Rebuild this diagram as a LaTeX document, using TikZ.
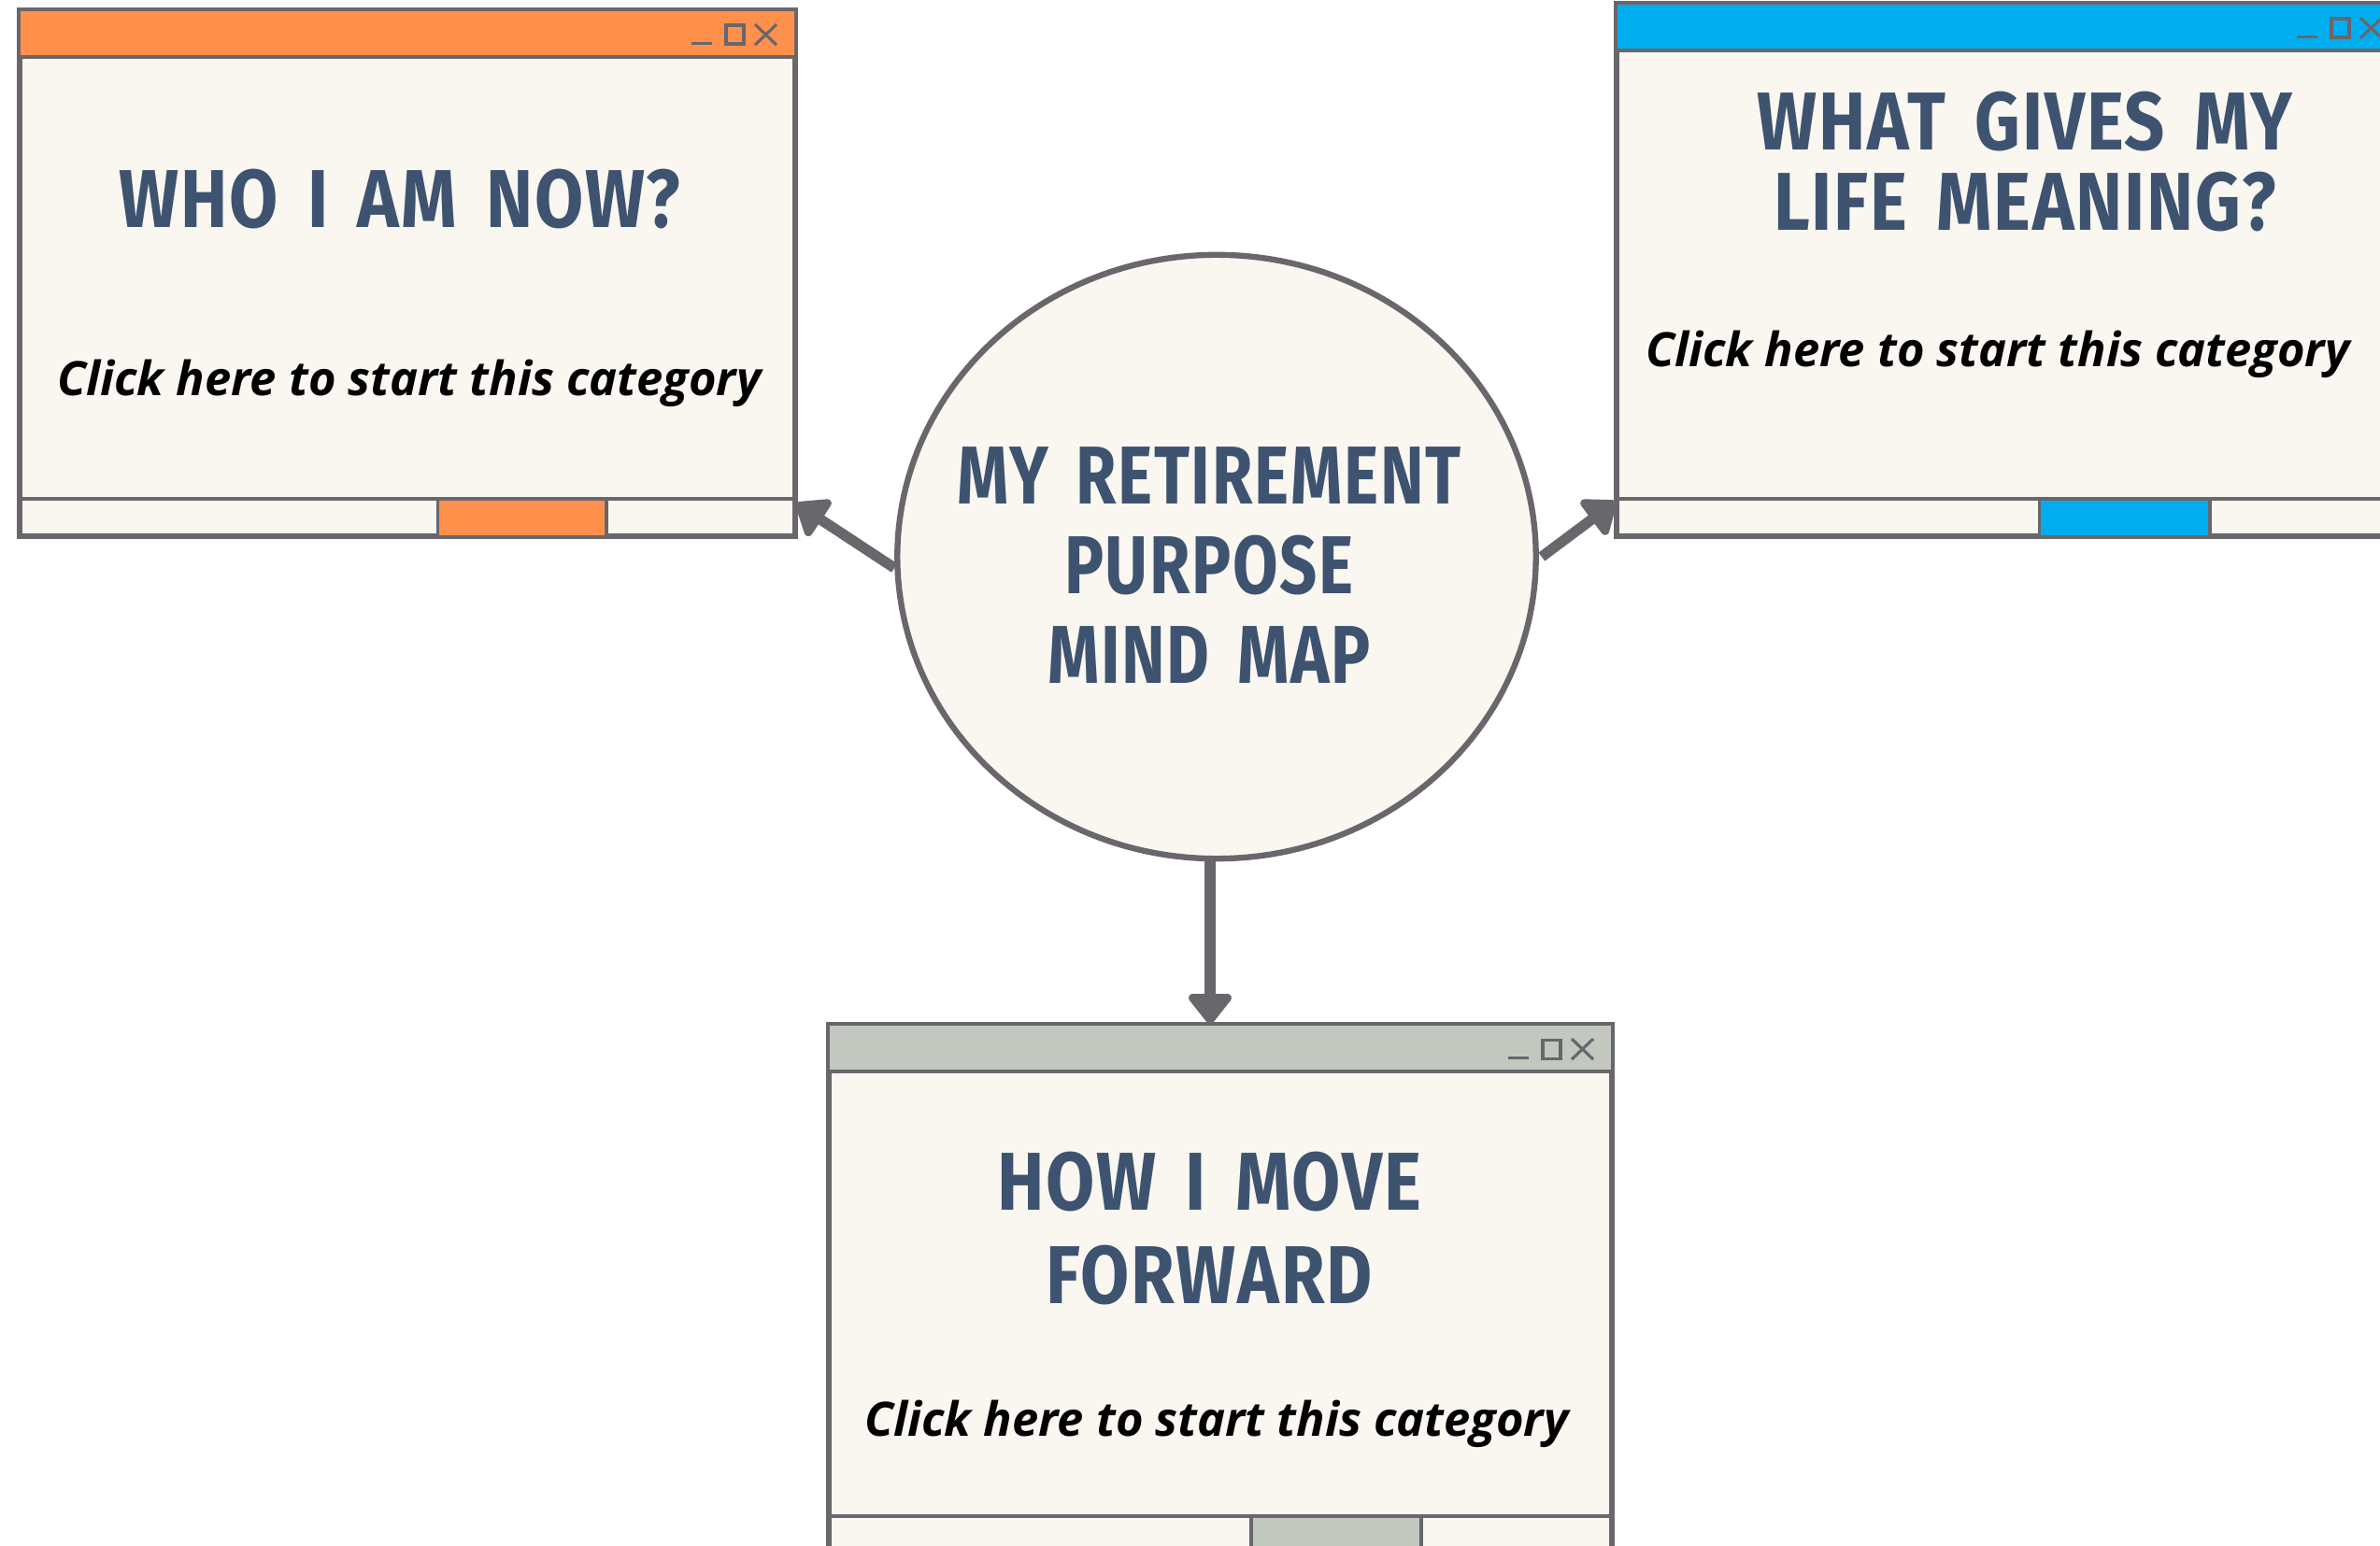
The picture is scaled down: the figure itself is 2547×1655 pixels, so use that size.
\documentclass[tikz,border=0pt]{standalone}
\usepackage{fontspec}
\usepackage{tikz}
\usetikzlibrary{arrows.meta}
\usetikzlibrary{shapes.geometric}
\usetikzlibrary{calc}

\newfontfamily\headfont[FakeStretch=0.86, LetterSpace=2, WordSpace=1.6]{Fira Sans}
\newfontfamily\hubfont[FakeStretch=0.8, LetterSpace=2, WordSpace=1.6]{Fira Sans}
\newfontfamily\clickfont{Open Sans}

\definecolor{cream}{HTML}{FAF6F0}
\definecolor{edge}{HTML}{69666C}
\definecolor{slate}{HTML}{3D5370}
\definecolor{tangerine}{HTML}{FF914D}
\definecolor{sky}{HTML}{00AEEF}
\definecolor{sage}{HTML}{C2C7C0}

\tikzset{
    winbox/.style={draw=edge, fill=cream, line width=1pt, inner sep=0pt},
    winline/.style={draw=edge, line width=1pt},
    iconline/.style={draw=edge, line width=0.9pt},
    headtext/.style={text=slate, align=center, font=\headfont\bfseries\fontsize{25}{24.4}\selectfont},
    clicktext/.style={text=black, font=\clickfont\bfseries\itshape\fontsize{14.4}{17}\selectfont},
    hub/.style={ellipse, draw=edge, fill=cream, line width=1.8pt, inner sep=0pt,
        minimum width=6.83cm, minimum height=6.46cm},
    link/.style={draw=edge, line width=3.2pt, -{Triangle[width=15pt,length=10pt,round]}}
}

\newcommand{\winparts}[2]{%
    \fill[#2] (#1.north west) rectangle ([yshift=-0.51cm]#1.north east);
    \draw[winline] ([yshift=-0.51cm]#1.north west) -- ([yshift=-0.51cm]#1.north east);
    \fill[#2] ([yshift=0.41cm]$(#1.south west)!0.539!(#1.south east)$) rectangle ($(#1.south west)!0.756!(#1.south east)$);
    \draw[winline] ([yshift=0.41cm]#1.south west) -- ([yshift=0.41cm]#1.south east);
    \draw[winline] ([yshift=0.41cm]$(#1.south west)!0.539!(#1.south east)$) -- ($(#1.south west)!0.539!(#1.south east)$);
    \draw[winline] ([yshift=0.41cm]$(#1.south west)!0.756!(#1.south east)$) -- ($(#1.south west)!0.756!(#1.south east)$);
    \draw[iconline] ([xshift=-1.12cm,yshift=-0.36cm]#1.north east) -- ++(22,0);
    \draw[iconline] ([xshift=-0.75cm,yshift=-0.17cm]#1.north east) rectangle ++(19,20);
    \draw[iconline] ([xshift=-0.44cm,yshift=-0.16cm]#1.north east) -- ++(23,22);
    \draw[iconline] ([xshift=-0.21cm,yshift=-0.16cm]#1.north east) -- ++(-23,22);
    \draw[winline] (#1.north west) rectangle (#1.south east);
}

\begin{document}
\begin{tikzpicture}[x=0.01cm, y=-0.01cm]
    \useasboundingbox (0,0) rectangle (2547,1655);
    \fill[white] (0,0) rectangle (2547,1655);

    \node[winbox, minimum width=8.28cm, minimum height=5.61cm] (who) at (436,292.5) {};
    \winparts{who}{tangerine}
    \node[headtext, anchor=base] (whohead) at (428,244) {WHO I AM NOW?};
    \node[clicktext, anchor=base] (whoclick) at (438,424) {Click here to start this category};

    \node[winbox, minimum width=8.37cm, minimum height=5.68cm] (life) at (2149.5,289) {};
    \winparts{life}{sky}
    \node[headtext] (lifehead) at (2167,173) {WHAT GIVES MY\\LIFE MEANING?};
    \node[clicktext, anchor=base] (lifeclick) at (2138,393) {Click here to start this category};

    \node[winbox, minimum width=8.36cm, minimum height=5.64cm] (move) at (1306,1380) {};
    \winparts{move}{sage}
    \node[headtext, font=\headfont\bfseries\fontsize{25}{28.4}\selectfont] (movehead) at (1294,1315) {HOW I MOVE\\FORWARD};
    \node[clicktext, anchor=base] (moveclick) at (1302,1537) {Click here to start this category};

    \node[hub] (hub) at (1302,596) {};
    \node[headtext, font=\hubfont\bfseries\fontsize{25}{27.2}\selectfont] (hubhead) at (1294,605) {MY RETIREMENT\\PURPOSE\\MIND MAP};

    \draw[link] ([yshift=-0.12cm]hub.west) -- ([yshift=0.36cm]who.south east);
    \draw[link] ([xshift=0.03cm]hub.east) -- ([yshift=0.38cm]life.south west);
    \draw[link] ([xshift=-0.07cm]hub.south) -- ([xshift=-0.07cm]hub.south |- move.north);
\end{tikzpicture}
\end{document}
